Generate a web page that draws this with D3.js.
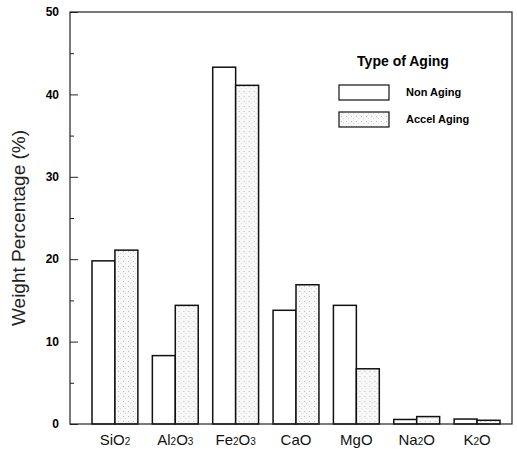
<!DOCTYPE html>
<html lang="en">
<head>
  <meta charset="UTF-8">
  <title>Weight Percentage by Oxide</title>
  <script src="https://d3js.org/d3.v7.min.js"></script>
  <style>
    body {
      margin: 0;
      background: #fff;
    }
    svg {
      display: block;
      font-family: "Liberation Sans", Arial, sans-serif;
    }
    .tick-label {
      font-family: "Liberation Sans Narrow", "Liberation Sans", Arial, sans-serif;
      font-weight: bold;
      font-size: 12px;
    }
    .bar {
      stroke: #111;
      stroke-width: 1.5px;
    }
  </style>
</head>
<body>
  <svg width="517" height="454"></svg>

  <script>
    const oxides = ["SiO2", "Al2O3", "Fe2O3", "CaO", "MgO", "Na2O", "K2O"];
    const nonAging = [19.8, 8.3, 43.3, 13.8, 14.4, 0.55, 0.6];
    const accelAging = [21.1, 14.4, 41.1, 16.9, 6.7, 0.9, 0.45];
    const series = ["Non Aging", "Accel Aging"];
    const yTicks = [0, 10, 20, 30, 40, 50];

    const svg = d3.select("svg");
    const plot = { left: 70, right: 512, top: 12, bottom: 424 };

    // dotted fill for the accelerated aging bars
    const defs = svg.append("defs");
    const pat = defs.append("pattern")
      .attr("id", "dots")
      .attr("width", 5).attr("height", 5)
      .attr("patternUnits", "userSpaceOnUse");
    pat.append("rect").attr("width", 5).attr("height", 5).attr("fill", "#f8f8f8");
    pat.append("rect").attr("x", 1).attr("y", 1).attr("width", 1).attr("height", 1).attr("fill", "#bbb");
    pat.append("rect").attr("x", 3).attr("y", 3).attr("width", 1).attr("height", 1).attr("fill", "#d8d8d8");

    const fills = d3.scaleOrdinal().domain(series).range(["#fff", "url(#dots)"]);

    const y = d3.scaleLinear().domain([0, 50]).range([plot.bottom, plot.top]);
    const x0 = d3.scaleBand().domain(oxides).range([92, 500]).paddingInner(0.24).paddingOuter(0);
    const x1 = d3.scaleBand().domain(series).range([0, x0.bandwidth()]);

    const data = oxides.map((o, i) => ({ oxide: o, values: [nonAging[i], accelAging[i]] }));

    // bars
    const groups = svg.selectAll(".group")
      .data(data)
      .enter().append("g")
      .attr("class", "group")
      .attr("transform", d => `translate(${x0(d.oxide)},0)`);

    groups.selectAll("rect")
      .data(d => d.values.map((v, j) => ({ s: series[j], v })))
      .enter().append("rect")
      .attr("class", "bar")
      .attr("x", d => x1(d.s))
      .attr("y", d => y(d.v))
      .attr("width", x1.bandwidth())
      .attr("height", d => y(0) - y(d.v))
      .attr("fill", d => fills(d.s));

    // frame
    svg.append("rect")
      .attr("x", plot.left).attr("y", plot.top)
      .attr("width", plot.right - plot.left)
      .attr("height", plot.bottom - plot.top)
      .attr("fill", "none")
      .attr("stroke", "#222")
      .attr("stroke-width", 1.2);

    // y axis: inward ticks, minor ticks at the halves
    const yAxis = svg.append("g")
      .attr("transform", `translate(${plot.left},0)`)
      .call(d3.axisRight(y).tickValues(yTicks).tickSize(8).tickFormat(""));
    yAxis.select(".domain").remove();
    yAxis.selectAll("line").attr("stroke", "#222");

    const yMinor = svg.append("g")
      .attr("transform", `translate(${plot.left},0)`)
      .call(d3.axisRight(y).tickValues(d3.range(5, 50, 10)).tickSize(4).tickFormat(""));
    yMinor.select(".domain").remove();
    yMinor.selectAll("line").attr("stroke", "#222");

    svg.selectAll(".ylab")
      .data(yTicks)
      .enter().append("text")
      .attr("class", "tick-label")
      .attr("x", plot.left - 11)
      .attr("y", d => y(d))
      .attr("dy", "0.35em")
      .attr("text-anchor", "end")
      .text(d => d);

    // y title
    svg.append("text")
      .attr("transform", "translate(25,228) rotate(-90)")
      .attr("text-anchor", "middle")
      .attr("font-size", 19)
      .attr("fill", "#222")
      .text("Weight Percentage (%)");

    // x labels with subscripts
    svg.selectAll(".xlab")
      .data(oxides)
      .enter().append("text")
      .attr("x", d => x0(d) + x0.bandwidth() / 2)
      .attr("y", 445)
      .attr("text-anchor", "middle")
      .attr("font-size", 15)
      .attr("fill", "#111")
      .each(function (d) {
        const t = d3.select(this);
        d.split(/(\d)/).filter(s => s).forEach(part => {
          const isNum = /\d/.test(part);
          t.append("tspan")
            .attr("font-size", isNum ? 10 : 15)
            .text(part);
        });
      });

    // legend
    const legend = svg.append("g");
    legend.append("text")
      .attr("x", 403).attr("y", 66)
      .attr("text-anchor", "middle")
      .attr("font-weight", "bold")
      .attr("font-size", 14)
      .text("Type of Aging");

    series.forEach((s, i) => {
      legend.append("rect")
        .attr("x", 339).attr("y", 85 + i * 27)
        .attr("width", 50).attr("height", 15)
        .attr("fill", fills(s))
        .attr("stroke", "#111")
        .attr("stroke-width", 1.2);
      legend.append("text")
        .attr("class", "tick-label")
        .attr("x", 406).attr("y", 92.5 + i * 27)
        .attr("dy", "0.35em")
        .style("font-size", "11px")
        .text(s);
    });
  </script>
</body>
</html>
